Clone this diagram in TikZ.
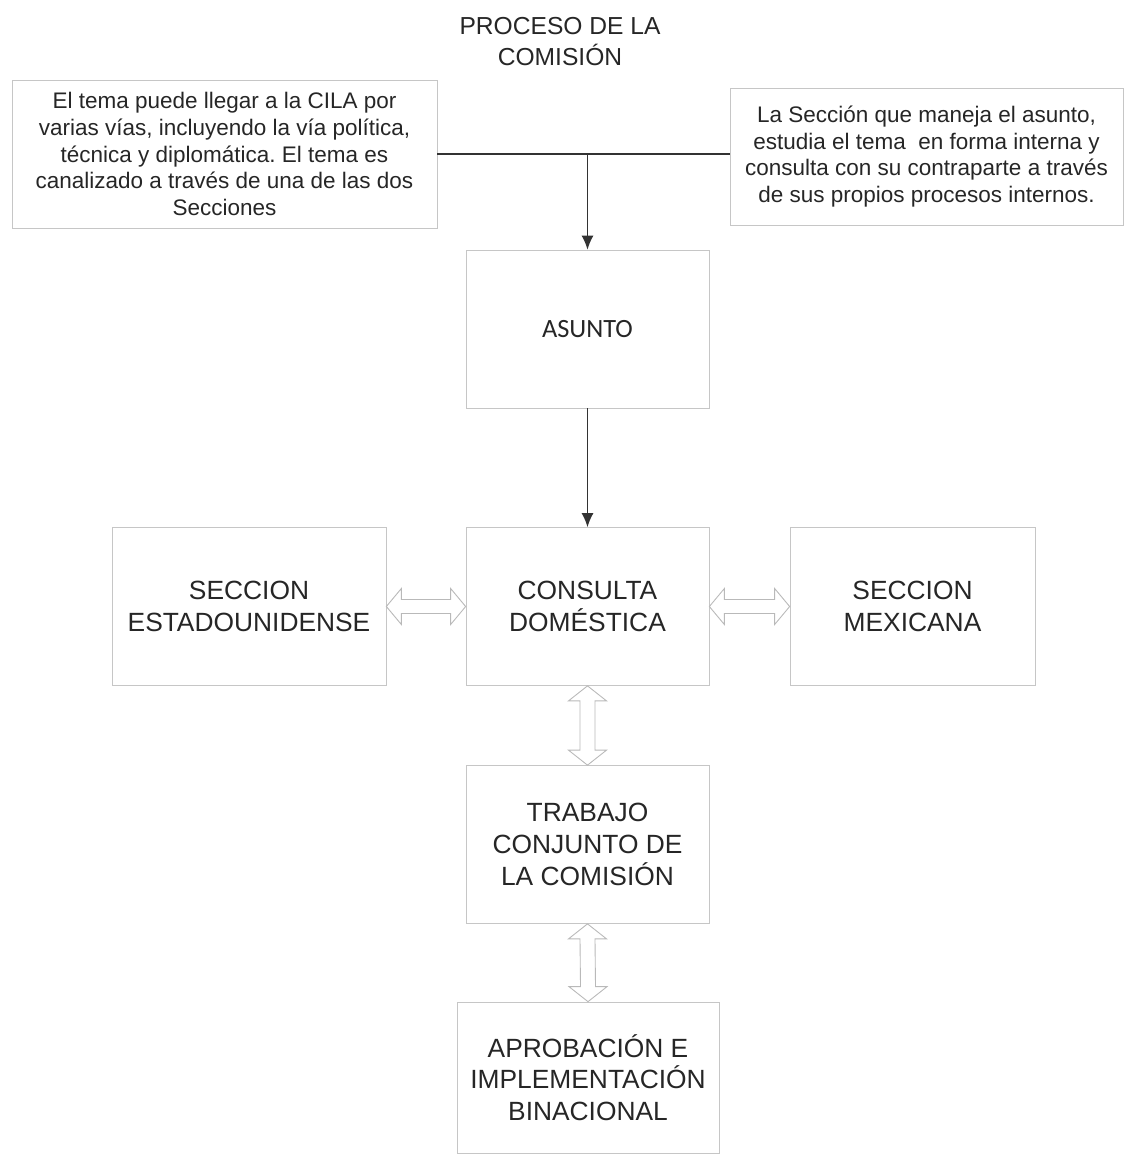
\documentclass[tikz,border=0pt]{standalone}
\usepackage{fontspec}
\setmainfont{Liberation Sans}
\newfontfamily\calibrifont{Carlito}
\frenchspacing
\usepackage{tikz}
\usetikzlibrary{arrows.meta,calc,positioning}
\tikzset{%
	notebox/.style  = {draw=gray!45, rectangle, align=center, text=black!85, font=\fontsize{12.8}{15.3}\selectfont},
	stagebox/.style = {draw=gray!45, rectangle, minimum width=4.86cm, minimum height=3.16cm, align=center, text=black!85, font=\fontsize{15}{18}\selectfont},
	arrow/.style    = {line width=0.8pt, black!80, -{Latex[length=0.28cm,width=0.24cm]}},
	hollow/.style   = {draw=gray!55, fill=white, line width=0.5pt},
}
% hollow double arrows between two boxes
\newcommand{\harrow}[2]{\draw[hollow] (#1.east) -- ($(#1.east)+(0.3,0.36)$) -- ($(#1.east)+(0.3,0.14)$) -- ($(#2.west)+(-0.3,0.14)$) -- ($(#2.west)+(-0.3,0.36)$) -- (#2.west) -- ($(#2.west)+(-0.3,-0.36)$) -- ($(#2.west)+(-0.3,-0.14)$) -- ($(#1.east)+(0.3,-0.14)$) -- ($(#1.east)+(0.3,-0.36)$) -- cycle;}
\newcommand{\varrow}[2]{\draw[hollow] (#1.south) -- ($(#1.south)+(0.38,-0.3)$) -- ($(#1.south)+(0.15,-0.3)$) -- ($(#2.north)+(0.15,0.3)$) -- ($(#2.north)+(0.38,0.3)$) -- (#2.north) -- ($(#2.north)+(-0.38,0.3)$) -- ($(#2.north)+(-0.15,0.3)$) -- ($(#1.south)+(-0.15,-0.3)$) -- ($(#1.south)+(-0.38,-0.3)$) -- cycle;}

\begin{document}
\begin{tikzpicture}
	\useasboundingbox (0,0) rectangle (22.52,-23.12);
	
	\node[text=black!85, align=center, font=\fontsize{14}{17.6}\selectfont] (title) at (11.2,-0.83) {PROCESO DE LA\\COMISIÓN};
	
	\node[notebox, minimum width=8.5cm, minimum height=2.96cm] (via) at (4.49,-3.08) {El tema puede llegar a la CILA por\\varias vías, incluyendo la vía política,\\técnica y diplomática. El tema es\\canalizado a través de una de las dos\\Secciones};
	\node[notebox, minimum width=7.86cm, minimum height=2.74cm] (seccion) at (18.53,-3.13) {La Sección que maneja el asunto,\\estudia el tema\ \ en forma interna y\\consulta con su contraparte a través\\de sus propios procesos internos.};
	
	\node[stagebox, font=\calibrifont\fontsize{15}{18}\selectfont] (asunto) at (11.75,-6.58) {ASUNTO};
	\node[stagebox] (consulta) at (11.75,-12.13) {CONSULTA\\DOMÉSTICA};
	\node[stagebox, minimum width=5.48cm] (eeuu) at (4.98,-12.13) {SECCION\\ESTADOUNIDENSE};
	\node[stagebox, minimum width=4.9cm] (mex) at (18.25,-12.13) {SECCION\\MEXICANA};
	\node[stagebox] (trabajo) at (11.75,-16.89) {TRABAJO\\CONJUNTO DE\\LA COMISIÓN};
	\node[stagebox, minimum width=5.24cm, minimum height=3.02cm] (aprob) at (11.76,-21.55) {APROBACIÓN E\\IMPLEMENTACIÓN\\BINACIONAL};
	
	\draw[line width=0.8pt, black!80] (via.east) -- (via.east -| seccion.west);
	\draw[arrow] (via.east -| asunto.north) -- (asunto.north);
	\draw[arrow] (asunto) -- (consulta);
	
	\harrow{eeuu}{consulta}
	\harrow{consulta}{mex}
	\varrow{consulta}{trabajo}
	\varrow{trabajo}{aprob}
\end{tikzpicture}
\end{document}
